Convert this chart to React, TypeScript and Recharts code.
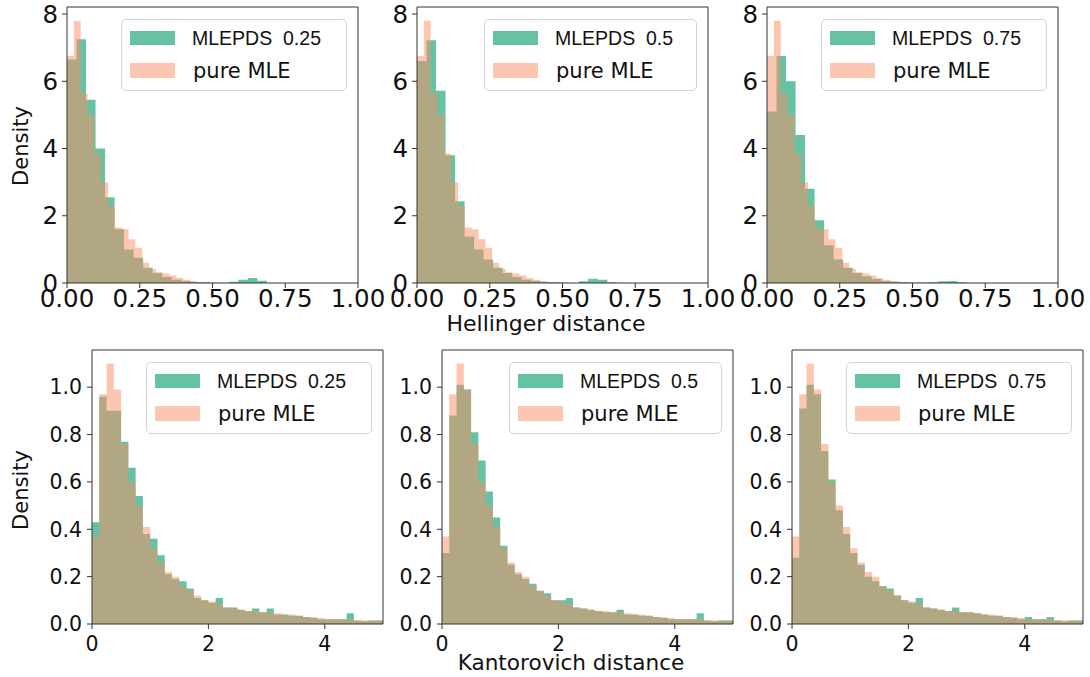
import { Area, AreaChart, Legend, ReferenceArea, XAxis, YAxis } from 'recharts';

const GREEN = '#66c2a5';
const SALMON = '#fc8d62';
const INK = '#111';

// Hellinger distance, density per bin (top row)
const hellingerMleBin = 0.0235;
const hellingerPdsBin = 0.0327;
const hellingerPureMle = [6.75, 7.8, 5.65, 5.0, 3.85, 3.0, 2.3, 1.65, 1.6, 1.3, 1.05, 0.6, 0.42, 0.32, 0.28, 0.22, 0.15, 0.1, 0.06, 0.03, 0.02];
const hellingerPds025 = [6.65, 7.25, 5.45, 4.0, 2.55, 1.6, 1.0, 0.75, 0.45, 0.3, 0.18, 0.1, 0.06, 0.03, 0.02, 0.01, 0, 0.04, 0.1, 0.15, 0.07];
const hellingerPds05 = [6.6, 7.22, 5.72, 3.8, 2.43, 1.38, 1.0, 0.7, 0.45, 0.3, 0.18, 0.1, 0.06, 0.03, 0.02, 0.01, 0, 0.05, 0.13, 0.1, 0.02];
const hellingerPds075 = [5.1, 6.75, 6.0, 4.4, 2.8, 1.87, 1.12, 0.7, 0.45, 0.3, 0.2, 0.12, 0.06, 0.04, 0.02, 0.01, 0.01, 0.02, 0.05, 0.06, 0.02];

// Kantorovich distance, density per bin (bottom row)
const kantorovichBin = 0.125;
const kantorovichPureMle = [0.37, 0.97, 1.1, 0.99, 0.76, 0.6, 0.5, 0.41, 0.32, 0.26, 0.22, 0.2, 0.16, 0.14, 0.12, 0.1, 0.095, 0.085, 0.07, 0.065, 0.06, 0.055, 0.055, 0.05, 0.05, 0.045, 0.04, 0.04, 0.035, 0.03, 0.03, 0.025, 0.02, 0.02, 0.02, 0.02, 0.015, 0.015, 0.015, 0.015];
const kantorovichPds025 = [0.43, 0.96, 0.9, 0.9, 0.77, 0.66, 0.54, 0.38, 0.36, 0.29, 0.21, 0.19, 0.18, 0.15, 0.11, 0.1, 0.09, 0.11, 0.07, 0.07, 0.06, 0.055, 0.065, 0.05, 0.065, 0.04, 0.04, 0.035, 0.035, 0.03, 0.025, 0.02, 0.02, 0.02, 0.02, 0.045, 0.015, 0.012, 0.015, 0.015];
const kantorovichPds05 = [0.3, 0.88, 1.01, 0.99, 0.81, 0.69, 0.56, 0.45, 0.33, 0.25, 0.21, 0.19, 0.17, 0.14, 0.13, 0.1, 0.1, 0.11, 0.07, 0.065, 0.06, 0.055, 0.05, 0.05, 0.06, 0.04, 0.04, 0.035, 0.035, 0.03, 0.025, 0.02, 0.02, 0.02, 0.02, 0.045, 0.015, 0.012, 0.015, 0.015];
const kantorovichPds075 = [0.28, 0.91, 1.01, 0.97, 0.73, 0.61, 0.48, 0.38, 0.3, 0.25, 0.2, 0.18, 0.16, 0.15, 0.12, 0.1, 0.09, 0.11, 0.07, 0.065, 0.06, 0.055, 0.07, 0.05, 0.05, 0.045, 0.04, 0.035, 0.035, 0.03, 0.025, 0.02, 0.03, 0.02, 0.02, 0.03, 0.015, 0.012, 0.015, 0.015];

const hellingerTicks = [0, 0.25, 0.5, 0.75, 1];
const hellingerDensityTicks = [0, 2, 4, 6, 8];
const kantorovichTicks = [0, 2, 4];
const kantorovichDensityTicks = [0, 0.2, 0.4, 0.6, 0.8, 1.0];
const lambdas = ['0.25', '0.5', '0.75'];

const binEdges = (count: number, width: number) => Array.from({ length: count + 1 }, (_, i) => i * width);

const binValue = (heights: number[], width: number, x: number) => {
  const k = Math.floor(x / width + 1e-6);
  return k >= 0 && k < heights.length ? heights[k] : 0;
};

// merge both histograms on the union of their bin edges, drawn as step areas
const stepRows = (pds: number[], pdsBin: number, mle: number[], mleBin: number) => {
  const xs = [...binEdges(pds.length, pdsBin), ...binEdges(mle.length, mleBin)].map((v) => Math.round(v * 1e6) / 1e6);
  return Array.from(new Set(xs))
    .sort((a, b) => a - b)
    .map((x) => ({ x, pds: binValue(pds, pdsBin, x), mle: binValue(mle, mleBin, x) }));
};

const LegendBox = ({ label }: { label: string }) => (
  <div
    style={{
      position: 'relative',
      height: 72,
      boxSizing: 'border-box',
      border: '1px solid #d4d4d4',
      borderRadius: 5,
      background: 'rgba(255,255,255,0.85)',
    }}
  >
    <div style={{ position: 'absolute', left: 8, top: 11, width: 45, height: 14, background: GREEN }} />
    <div style={{ position: 'absolute', left: 8, top: 43, width: 45, height: 15, background: SALMON, opacity: 0.5 }} />
    <span
      style={{ position: 'absolute', left: 70, top: 9, fontFamily: 'Liberation Sans', fontSize: 19.5, lineHeight: '19px', color: INK, whiteSpace: 'pre' }}
    >
      {`MLEPDS  ${label}`}
    </span>
    <span
      style={{ position: 'absolute', left: 71, top: 41, fontFamily: 'DejaVu Sans', fontSize: 21, lineHeight: '21px', color: INK, whiteSpace: 'pre' }}
    >
      pure MLE
    </span>
  </div>
);

type PanelProps = {
  left: number;
  top: number;
  plotHeight: number;
  rows: { x: number; pds: number; mle: number }[];
  xMax: number;
  yMax: number;
  xTicks: number[];
  yTicks: number[];
  xFormat: (v: number) => string;
  yFormat: (v: number) => string;
  fontSize: number;
  xTickMargin: number;
  yTickMargin: number;
  label: string;
};

const Panel = ({ left, top, plotHeight, rows, xMax, yMax, xTicks, yTicks, xFormat, yFormat, fontSize, xTickMargin, yTickMargin, label }: PanelProps) => {
  const tick = { fill: INK, fontSize, fontFamily: 'DejaVu Sans' };
  return (
    <div style={{ position: 'absolute', left, top }}>
      <AreaChart width={388} height={7 + plotHeight + 47} data={rows} margin={{ top: 7, right: 30, left: 0, bottom: 0 }}>
        <XAxis
          type="number"
          dataKey="x"
          domain={[0, xMax]}
          allowDataOverflow
          ticks={xTicks}
          interval={0}
          tickFormatter={xFormat}
          axisLine={false}
          tickLine={{ stroke: '#333' }}
          tickSize={5}
          tickMargin={xTickMargin}
          height={47}
          tick={tick}
        />
        <YAxis
          type="number"
          domain={[0, yMax]}
          allowDataOverflow
          ticks={yTicks}
          interval={0}
          tickFormatter={yFormat}
          axisLine={false}
          tickLine={{ stroke: '#333' }}
          tickSize={5}
          tickMargin={yTickMargin}
          width={67}
          tick={tick}
        />
        <Area type="stepAfter" dataKey="pds" fill={GREEN} fillOpacity={1} stroke="none" dot={false} activeDot={false} isAnimationActive={false} />
        <Area type="stepAfter" dataKey="mle" fill={SALMON} fillOpacity={0.5} stroke="none" dot={false} activeDot={false} isAnimationActive={false} />
        <ReferenceArea x1={0} x2={xMax} y1={0} y2={yMax} fill="none" stroke="#333" strokeWidth={1} ifOverflow="visible" />
        <Legend
          layout="horizontal"
          verticalAlign="middle"
          align="center"
          width={label === '0.5' ? 213 : 226}
          wrapperStyle={{ right: 41, top: 19 }}
          content={() => <LegendBox label={label} />}
        />
      </AreaChart>
    </div>
  );
};

const hellingerPds = [hellingerPds025, hellingerPds05, hellingerPds075];
const kantorovichPds = [kantorovichPds025, kantorovichPds05, kantorovichPds075];

export default function App() {
  return (
    <div style={{ position: 'absolute', left: 0, top: 0, width: 1090, height: 677, overflow: 'hidden', background: '#fff', fontFamily: 'DejaVu Sans' }}>
      {lambdas.map((lam, i) => (
        <Panel
          key={`h${lam}`}
          left={i * 350}
          top={0}
          plotHeight={276}
          rows={stepRows(hellingerPds[i], hellingerPdsBin, hellingerPureMle, hellingerMleBin)}
          xMax={1}
          yMax={8.21}
          xTicks={hellingerTicks}
          yTicks={hellingerDensityTicks}
          xFormat={(v) => v.toFixed(2)}
          yFormat={(v) => String(v)}
          fontSize={24.5}
          xTickMargin={2}
          yTickMargin={4}
          label={lam}
        />
      ))}
      {lambdas.map((lam, i) => (
        <Panel
          key={`k${lam}`}
          left={25 + i * 350}
          top={343}
          plotHeight={274}
          rows={stepRows(kantorovichPds[i], kantorovichBin, kantorovichPureMle, kantorovichBin)}
          xMax={5}
          yMax={1.157}
          xTicks={kantorovichTicks}
          yTicks={kantorovichDensityTicks}
          xFormat={(v) => String(v)}
          yFormat={(v) => v.toFixed(1)}
          fontSize={20.5}
          xTickMargin={7}
          yTickMargin={5}
          label={lam}
        />
      ))}
      <svg width={1090} height={677} style={{ position: 'absolute', left: 0, top: 0, pointerEvents: 'none' }}>
        <text x={546} y={331} textAnchor="middle" fontSize={22} fill={INK} fontFamily="DejaVu Sans">
          Hellinger distance
        </text>
        <text x={571} y={670} textAnchor="middle" fontSize={21.6} fill={INK} fontFamily="DejaVu Sans">
          Kantorovich distance
        </text>
        <text x={28} y={146} transform="rotate(-90 28 146)" textAnchor="middle" fontSize={21} fill={INK} fontFamily="DejaVu Sans">
          Density
        </text>
        <text x={28} y={490} transform="rotate(-90 28 490)" textAnchor="middle" fontSize={21} fill={INK} fontFamily="DejaVu Sans">
          Density
        </text>
      </svg>
    </div>
  );
}
